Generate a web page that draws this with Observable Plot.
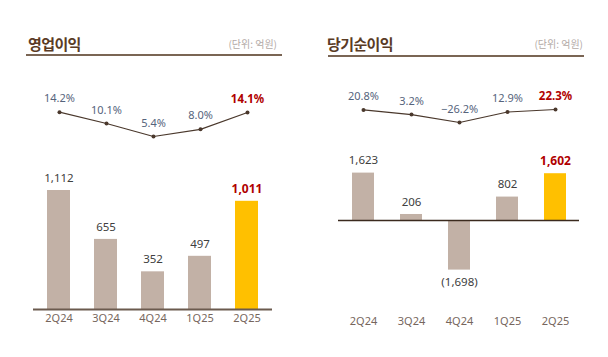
<!DOCTYPE html>
<html>
<head>
<meta charset="utf-8">
<script src="https://cdn.jsdelivr.net/npm/d3@7"></script>
<script src="https://cdn.jsdelivr.net/npm/@observablehq/plot@0.6"></script>
<style>
  html, body { margin: 0; padding: 0; background: #fff; }
  #root { position: relative; width: 608px; height: 357px; overflow: hidden; }
  #root svg { position: absolute; left: 0; top: 0; }
  .title { position: absolute; top: 35px; font-family: "Noto Sans CJK KR", sans-serif; font-weight: 700; font-size: 15px; line-height: 17px; color: #5a3b25; letter-spacing: -0.6px; }
  .unit { position: absolute; top: 38px; font-family: "Noto Sans CJK KR", sans-serif; font-size: 10px; line-height: 12px; color: #b3aaa6; }
  .rule { position: absolute; height: 2px; background: #7a6554; }
</style>
</head>
<body>
<div id="root">
  <div class="title" style="left:28px">영업이익</div>
  <div class="unit" style="right:331px">(단위: 억원)</div>
  <div class="rule" style="left:26px; width:256px; top:54px"></div>
  <div class="title" style="left:327px">당기순이익</div>
  <div class="unit" style="right:25px">(단위: 억원)</div>
  <div class="rule" style="left:328px; width:256px; top:55px"></div>
</div>
<script>
const quarters = ["2Q24", "3Q24", "4Q24", "1Q25", "2Q25"];
const opIncome = [1112, 655, 352, 497, 1011];
const opMargin = [14.2, 10.1, 5.4, 8.0, 14.1];
const netIncome = [1623, 206, -1698, 802, 1602];
const netMargin = [20.8, 3.2, -26.2, 12.9, 22.3];
const highlight = "2Q25";

const barColor = "#c2b1a6";
const hiBar = "#ffc000";
const hiText = "#b00000";
const valText = "#404040";
const pctText = "#56647c";
const lineColor = "#4a382c";
const tickColor = "#76665d";

const W = 608, H = 357;
const root = document.getElementById("root");
const fmtNum = d3.format(",");
const fmtVal = v => v < 0 ? "(" + fmtNum(-v) + ")" : fmtNum(v);
const fmtPct = v => d3.format(".1f")(v) + "%";
const style = {fontFamily: "'Noto Sans', sans-serif", fontSize: "11px", background: "transparent", overflow: "visible"};

function barPlot(values, opts) {
  const data = quarters.map((q, i) => ({q, v: values[i]}));
  return Plot.plot({
    width: W, height: H,
    marginLeft: opts.left, marginRight: opts.right,
    marginTop: 0, marginBottom: opts.bottom,
    style,
    x: {type: "band", domain: quarters, paddingInner: opts.pad, paddingOuter: opts.pad / 2, axis: null},
    y: {domain: opts.yDomain, range: opts.yRange, axis: null},
    marks: [
      Plot.barY(data, {x: "q", y: "v", fill: d => d.q === highlight ? hiBar : barColor}),
      Plot.ruleY([0], {stroke: opts.baseColor, strokeWidth: opts.baseWidth}),
      Plot.axisX({tickSize: 0, tickPadding: opts.tickPad, fill: tickColor, fontSize: 11, label: null}),
      Plot.text(data.filter(d => d.q !== highlight && d.v >= 0), {x: "q", y: "v", text: d => fmtVal(d.v), lineAnchor: "middle", dy: -12.5, fill: valText, fontSize: 11.5}),
      Plot.text(data.filter(d => d.q !== highlight && d.v < 0), {x: "q", y: "v", text: d => fmtVal(d.v), lineAnchor: "middle", dy: 12.5, fill: valText, fontSize: 11.5}),
      Plot.text(data.filter(d => d.q === highlight), {x: "q", y: "v", text: d => fmtVal(d.v), lineAnchor: "middle", dy: -12.5, fill: hiText, fontSize: 12, fontWeight: "bold"})
    ]
  });
}

function linePlot(values, opts) {
  const data = quarters.map((q, i) => ({q, v: values[i]}));
  return Plot.plot({
    width: W, height: H,
    marginLeft: opts.left, marginRight: opts.right,
    marginTop: 0, marginBottom: 0,
    style,
    x: {type: "point", domain: quarters, padding: 0, axis: null},
    y: {domain: opts.yDomain, range: opts.yRange, axis: null},
    marks: [
      Plot.line(data, {x: "q", y: "v", stroke: lineColor, strokeWidth: 1.2}),
      Plot.dot(data, {x: "q", y: "v", r: 2, fill: lineColor}),
      Plot.text(data.filter(d => d.q !== highlight), {x: "q", y: "v", text: d => fmtPct(d.v), lineAnchor: "middle", dy: -13.5, fill: pctText, fontSize: 11}),
      Plot.text(data.filter(d => d.q === highlight), {x: "q", y: "v", text: d => fmtPct(d.v), lineAnchor: "middle", dy: -13.5, fill: hiText, fontSize: 11.5, fontWeight: "bold"})
    ]
  });
}

// Left panel: operating income
root.appendChild(barPlot(opIncome, {left: 33, right: W - 272, bottom: H - 309, pad: 0.52, yDomain: [0, 1112], yRange: [309, 190], baseColor: "#6b5a4e", baseWidth: 2, tickPad: 4.5}));
root.appendChild(linePlot(opMargin, {left: 57, right: W - 248, yDomain: [5.4, 14.2], yRange: [136, 111.7]}));

// Right panel: net income
root.appendChild(barPlot(netIncome, {left: 338, right: W - 579, bottom: H - 312, pad: 0.544, yDomain: [-1698, 1623], yRange: [269.6, 172.6], baseColor: "#3b2a1e", baseWidth: 1.6, tickPad: 4.5}));
root.appendChild(linePlot(netMargin, {left: 362, right: W - 555, yDomain: [-26.2, 22.3], yRange: [122, 109]}));
</script>
</body>
</html>
